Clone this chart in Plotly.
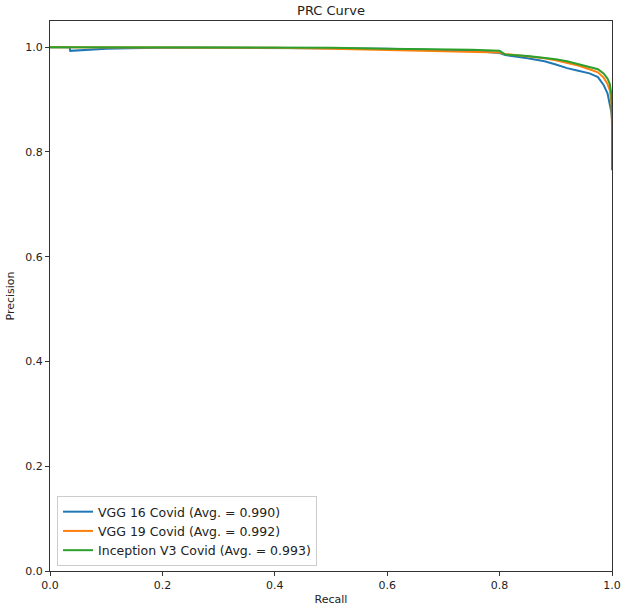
import plotly.graph_objects as go

# Data
vgg16_recall = [0.0, 0.035, 0.036, 0.06, 0.10, 0.14, 0.20, 0.30, 0.40, 0.50, 0.60, 0.70, 0.75, 0.80, 0.81,
                0.85, 0.88, 0.90, 0.92, 0.94, 0.96, 0.975, 0.985, 0.992, 0.996, 0.999, 1.0]
vgg16_precision = [1.0, 1.0, 0.993, 0.995, 0.997, 0.998, 0.999, 0.999, 0.999, 0.998, 0.997, 0.995, 0.993, 0.989, 0.985,
                   0.979, 0.973, 0.967, 0.960, 0.955, 0.950, 0.943, 0.928, 0.912, 0.893, 0.875, 0.862]

vgg19_recall = [0.0, 0.20, 0.40, 0.50, 0.60, 0.70, 0.80, 0.81, 0.85, 0.88, 0.90, 0.92, 0.94, 0.96, 0.975,
                0.985, 0.992, 0.996, 0.999, 1.0, 1.0]
vgg19_precision = [1.0, 1.0, 0.999, 0.997, 0.995, 0.993, 0.990, 0.987, 0.983, 0.979, 0.975, 0.970, 0.965, 0.958, 0.952,
                   0.942, 0.930, 0.918, 0.895, 0.85, 0.77]

incv3_recall = [0.0, 0.30, 0.50, 0.60, 0.70, 0.75, 0.80, 0.805, 0.81, 0.85, 0.88, 0.90, 0.92, 0.94, 0.96,
                0.975, 0.985, 0.992, 0.996, 0.999, 1.0, 1.0]
incv3_precision = [1.0, 1.0, 0.999, 0.997, 0.996, 0.995, 0.993, 0.990, 0.986, 0.983, 0.980, 0.977, 0.973, 0.968, 0.963,
                   0.958, 0.950, 0.940, 0.930, 0.910, 0.87, 0.765]

names = ["VGG 16 Covid (Avg. = 0.990)", "VGG 19 Covid (Avg. = 0.992)", "Inception V3 Covid (Avg. = 0.993)"]
colors = ["#1f77b4", "#ff7f0e", "#2ca02c"]

fig = go.Figure()
for r, p, n, c in zip([vgg16_recall, vgg19_recall, incv3_recall],
                      [vgg16_precision, vgg19_precision, incv3_precision], names, colors):
    fig.add_trace(go.Scatter(x=r, y=p, mode="lines", name=n, line=dict(color=c, width=2)))

axis_common = dict(showline=True, mirror=True, linecolor="#333333", linewidth=1, ticks="outside",
                   ticklen=4, tickcolor="#333333", showgrid=False, zeroline=False, automargin=False,
                   tickfont=dict(family="DejaVu Sans", size=11, color="#222222"),
                   tickformat=".1f", dtick=0.2)

fig.update_layout(
    width=624, height=610,
    margin=dict(l=50, r=12, t=21, b=39),
    paper_bgcolor="white", plot_bgcolor="white",
    font=dict(family="DejaVu Sans", color="#222222"),
    title=dict(text="PRC Curve", x=0.5, xref="paper", y=1 - 10 / 610, yref="container",
               yanchor="middle", font=dict(size=13, family="DejaVu Sans", color="#222222")),
    xaxis=dict(range=[0, 1.0], title=dict(text="Recall", standoff=4, font=dict(size=11)), **axis_common),
    yaxis=dict(range=[0, 1.05], title=dict(text="Precision", standoff=8, font=dict(size=11)), **axis_common),
    legend=dict(x=0.0125, y=0.009, xanchor="left", yanchor="bottom", bgcolor="rgba(255,255,255,0.8)",
                bordercolor="#cccccc", borderwidth=1, font=dict(family="DejaVu Sans", size=12.5, color="#222222"),
                tracegroupgap=0, itemwidth=30),
    showlegend=True,
)

fig.write_html("out.html", config={"displayModeBar": False},
               post_script="document.body.style.margin='0';document.body.style.overflow='hidden';")
